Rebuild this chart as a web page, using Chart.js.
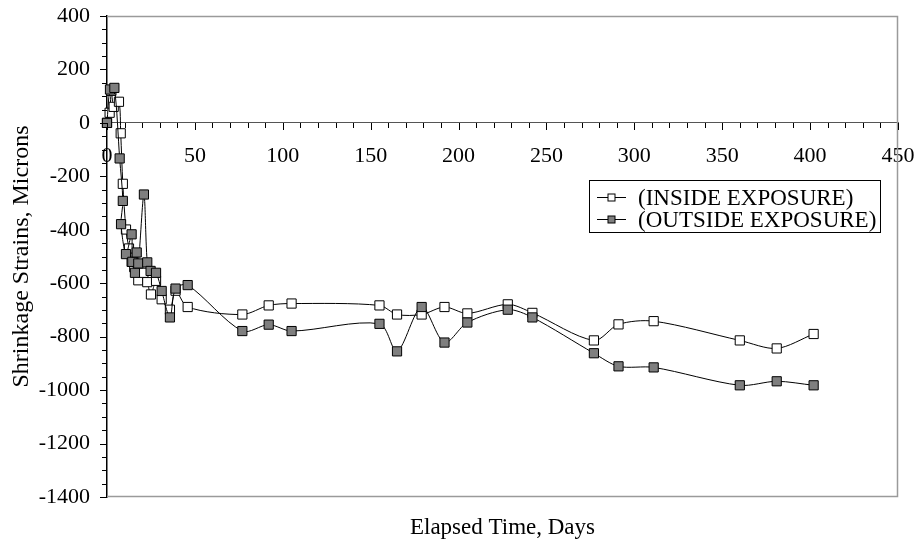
<!DOCTYPE html>
<html>
<head>
<meta charset="utf-8">
<script src="https://cdn.jsdelivr.net/npm/chart.js@4/dist/chart.umd.min.js"></script>
<style>
  html, body { margin: 0; padding: 0; background: #fff; }
</style>
</head>
<body>
<canvas id="myChart" width="918" height="544"></canvas>
<script>
// values
const insideDays = [0, 1.5, 2.5, 3.8, 6.8, 7.8, 9, 10.8, 12.5, 14, 15.5, 17.8, 20.7, 22.9, 25, 27.9, 31.1, 35.8, 39, 45.9,
  77, 92, 105, 155, 165, 179, 192, 205, 228, 242, 277, 291, 311, 360, 381, 402];
const insideStrain = [0, 38, 120, 60, 79, -39, -228, -399, -470, -520, -540, -589, -561, -596, -642, -591, -660, -699, -628, -689,
  -717, -683, -676, -683, -717, -717, -689, -713, -679, -711, -814, -754, -742, -814, -844, -790];

const outsideDays = [0, 1.7, 4.2, 7.2, 9, 8, 10.8, 14, 14.4, 15.9, 16.9, 17.8, 21, 22.9, 24.8, 27.9, 31.1, 35.8, 39, 45.9,
  77, 92, 105, 155, 165, 179, 192, 205, 228, 242, 277, 291, 311, 360, 381, 402];
const outsideStrain = [0, 125, 131, -133, -292, -379, -491, -417, -520, -561, -485, -526, -268, -522, -554, -561, -629, -728, -620, -607,
  -779, -755, -779, -752, -855, -689, -822, -747, -699, -728, -862, -911, -915, -982, -967, -982];

const seriesLabels = ["(INSIDE EXPOSURE)", "(OUTSIDE EXPOSURE)"];
const xTitle = "Elapsed Time, Days";
const yTitle = "Shrinkage Strains, Microns";

const FONT = "'Liberation Serif', 'Times New Roman', serif";
const ctx = document.getElementById("myChart").getContext("2d");

const toPoints = (days, vals) => days.map((d, i) => ({ x: d, y: vals[i] }));

const noPadding = (scale) => {
  scale.paddingLeft = 0;
  scale.paddingRight = 0;
  scale.paddingTop = 0;
  scale.paddingBottom = 0;
};

// axis ticks, frame and the boxed legend
const framePlugin = {
  id: "frame",
  afterDraw(chart) {
    const { ctx, chartArea: a, scales } = chart;
    const x = scales.x, y = scales.y;
    ctx.save();

    ctx.strokeStyle = "#9a9a9a";
    ctx.lineWidth = 1.5;
    ctx.beginPath();
    ctx.moveTo(a.left, a.top + 0.5);
    ctx.lineTo(a.right - 0.5, a.top + 0.5);
    ctx.lineTo(a.right - 0.5, a.bottom - 0.5);
    ctx.lineTo(a.left, a.bottom - 0.5);
    ctx.stroke();

    ctx.strokeStyle = "#000";
    ctx.lineWidth = 1;
    ctx.beginPath();
    for (let v = -1400; v <= 400; v += 50) {
      const py = Math.round(y.getPixelForValue(v)) + 0.5;
      const len = v % 200 === 0 ? 7 : 5;
      ctx.moveTo(a.left - len, py);
      ctx.lineTo(a.left, py);
    }
    const y0 = Math.round(y.getPixelForValue(0));
    for (let d = 0; d <= 450; d += 10) {
      const px = Math.round(x.getPixelForValue(d)) + 0.5;
      const len = d % 50 === 0 ? 7 : 5;
      ctx.moveTo(px, y0);
      ctx.lineTo(px, y0 + len);
    }
    ctx.stroke();

    // legend
    const lx = 589.5, ly = 180.5, lw = 291, lh = 52;
    ctx.fillStyle = "#fff";
    ctx.fillRect(lx, ly, lw, lh);
    ctx.strokeStyle = "#000";
    ctx.strokeRect(lx, ly, lw, lh);
    ctx.font = "23px " + FONT;
    ctx.textBaseline = "middle";
    chart.data.datasets.forEach((ds, i) => {
      const ry = Math.round(ly + 16 + i * 22) + 0.5;
      ctx.beginPath();
      ctx.moveTo(597, ry);
      ctx.lineTo(626, ry);
      ctx.stroke();
      ctx.fillStyle = ds.backgroundColor;
      ctx.fillRect(608, ry - 3.5, 7, 7);
      ctx.strokeRect(608, ry - 3.5, 7, 7);
      ctx.fillStyle = "#000";
      ctx.fillText(ds.label, 638, ry + 1);
    });
    ctx.restore();
  }
};

const myChart = new Chart(ctx, {
  type: "line",
  data: {
    datasets: [
      {
        label: seriesLabels[0],
        data: toPoints(insideDays, insideStrain),
        borderColor: "#000",
        borderWidth: 1,
        backgroundColor: "#ffffff",
        pointStyle: "rect",
        pointRadius: 6.5,
        pointBorderColor: "#000",
        pointBorderWidth: 1,
        tension: 0.3,
        clip: false,
        order: 2,
      },
      {
        label: seriesLabels[1],
        data: toPoints(outsideDays, outsideStrain),
        borderColor: "#000",
        borderWidth: 1,
        backgroundColor: "#7f7f7f",
        pointStyle: "rect",
        pointRadius: 6.5,
        pointBorderColor: "#000",
        pointBorderWidth: 1,
        tension: 0.3,
        clip: false,
        order: 1,
      },
    ],
  },
  options: {
    responsive: false,
    animation: false,
    layout: { padding: { top: 16, right: 20, left: 0, bottom: 0 } },
    plugins: { legend: { display: false }, tooltip: { enabled: false } },
    scales: {
      x: {
        type: "linear",
        position: { y: 0 },
        min: 0,
        max: 450,
        ticks: { stepSize: 50, padding: 20, maxRotation: 0, color: "#000", font: { family: FONT, size: 22 }, callback: (v) => String(v) },
        grid: { display: false, drawTicks: false },
        border: { color: "#555", width: 1 },
        afterFit: noPadding,
      },
      xBottom: {
        type: "linear",
        axis: "x",
        position: "bottom",
        min: 0,
        max: 450,
        ticks: { display: false },
        grid: { display: false, drawTicks: false },
        border: { display: false },
        title: { display: true, text: xTitle, color: "#000", font: { family: FONT, size: 23 }, padding: { top: 0, bottom: 2 } },
        afterFit(scale) { noPadding(scale); scale.height = 47; },
      },
      y: {
        type: "linear",
        min: -1400,
        max: 400,
        ticks: { stepSize: 200, padding: 17, color: "#000", font: { family: FONT, size: 22 }, callback: (v) => String(v) },
        grid: { display: false, drawTicks: false },
        border: { color: "#000", width: 1.5 },
        title: { display: true, text: yTitle, color: "#000", font: { family: FONT, size: 24 }, padding: { top: 7, bottom: 0 } },
        afterFit(scale) { noPadding(scale); scale.width = 107; },
      },
    },
  },
  plugins: [framePlugin],
});
</script>
</body>
</html>
